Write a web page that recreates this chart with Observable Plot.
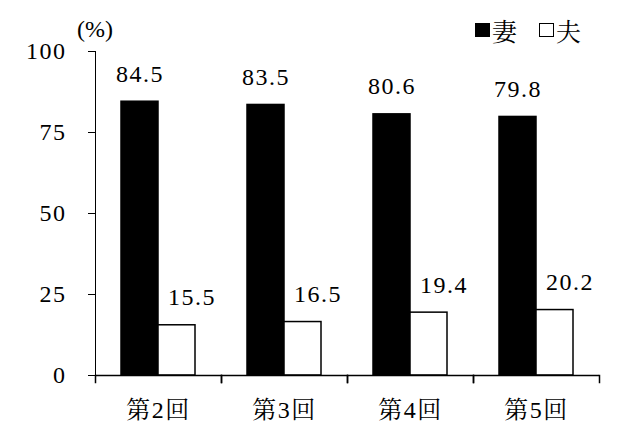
<!DOCTYPE html>
<html>
<head>
<meta charset="utf-8">
<script src="https://cdn.jsdelivr.net/npm/d3@7"></script>
<script src="https://cdn.jsdelivr.net/npm/@observablehq/plot@0.6"></script>
<style>
  html, body { margin: 0; padding: 0; background: #fff; }
  #wrap { position: relative; width: 640px; height: 433px; font-family: "Liberation Serif", "Noto Serif CJK JP", serif; color: #000; }
  #chart svg, #chart svg text, #chart svg g { font-family: "Liberation Serif", "Noto Serif CJK JP", serif !important; }
  #unit { position: absolute; left: 77px; top: 14px; font-size: 24px; line-height: 30px; }
  #legend { position: absolute; left: 475px; top: 15px; height: 30px; display: flex; align-items: center; font-family: "Noto Serif CJK JP", serif; font-size: 25px; line-height: 30px; }
  .sw { display: inline-block; width: 15px; height: 14px; box-sizing: border-box; }
  .sw.black { background: #000; }
  .sw.white { background: #fff; border: 1.5px solid #000; }
</style>
</head>
<body>
<div id="wrap">
  <div id="chart"></div>
  <div id="unit"></div>
  <div id="legend"></div>
</div>
<script>
const rounds = ["第2回", "第3回", "第4回", "第5回"];
const series = ["妻", "夫"];
const wifeValues = [84.5, 83.5, 80.6, 79.8];
const husbandValues = [15.5, 16.5, 19.4, 20.2];
const yTicks = [0, 25, 50, 75, 100];
const unitLabel = "(%)";

const data = rounds.flatMap((r, i) => [
  {round: r, series: series[0], value: wifeValues[i]},
  {round: r, series: series[1], value: husbandValues[i]}
]);

const fontStack = "Liberation Serif, Noto Serif CJK JP, serif";

const chart = Plot.plot({
  width: 640,
  height: 433,
  marginLeft: 94,
  marginRight: 41,
  marginTop: 51,
  marginBottom: 58,
  style: {fontSize: "24px", letterSpacing: "1.5px", color: "#000", background: "#fff", overflow: "visible"},
  fx: {domain: rounds, padding: 0, label: null, tickSize: 0, tickPadding: 25, axis: "bottom"},
  x: {domain: series, axis: null, paddingInner: 0, paddingOuter: 0.7},
  y: {domain: [0, 100], ticks: yTicks, tickSize: 7, tickPadding: 22, label: null, line: true},
  color: {domain: series, range: ["#000", "#fff"]},
  marks: [
    Plot.barY(data, {fx: "round", x: "series", y: "value", fill: "series", stroke: "#000", strokeWidth: 1.5}),
    Plot.ruleY([0], {stroke: "#000", strokeWidth: 1.5}),
    Plot.frame({anchor: "left", insetTop: 324, insetBottom: -7, stroke: "#000", strokeWidth: 1.5}),
    Plot.frame({anchor: "right", insetTop: 324, insetBottom: -7, stroke: "#000", strokeWidth: 1.5}),
    Plot.text(data.filter(d => d.series === series[0]), {
      fx: "round", x: "series", y: "value", text: d => d.value.toFixed(1),
      lineAnchor: "bottom", dy: -20, fontSize: 24, fontFamily: fontStack, fill: "#000"
    }),
    Plot.text(data.filter(d => d.series === series[1]), {
      fx: "round", x: "series", y: "value", text: d => d.value.toFixed(1),
      lineAnchor: "bottom", dy: -20, dx: 15, fontSize: 24, fontFamily: fontStack, fill: "#000"
    })
  ]
});
document.getElementById("chart").appendChild(chart);

document.getElementById("unit").textContent = unitLabel;
const legend = document.getElementById("legend");
series.forEach((s, i) => {
  const sw = document.createElement("span");
  sw.className = "sw " + (i === 0 ? "black" : "white");
  const lab = document.createElement("span");
  lab.textContent = s;
  lab.style.marginLeft = "2px";
  lab.style.marginRight = i === 0 ? "22px" : "0";
  legend.appendChild(sw);
  legend.appendChild(lab);
});
</script>
</body>
</html>
